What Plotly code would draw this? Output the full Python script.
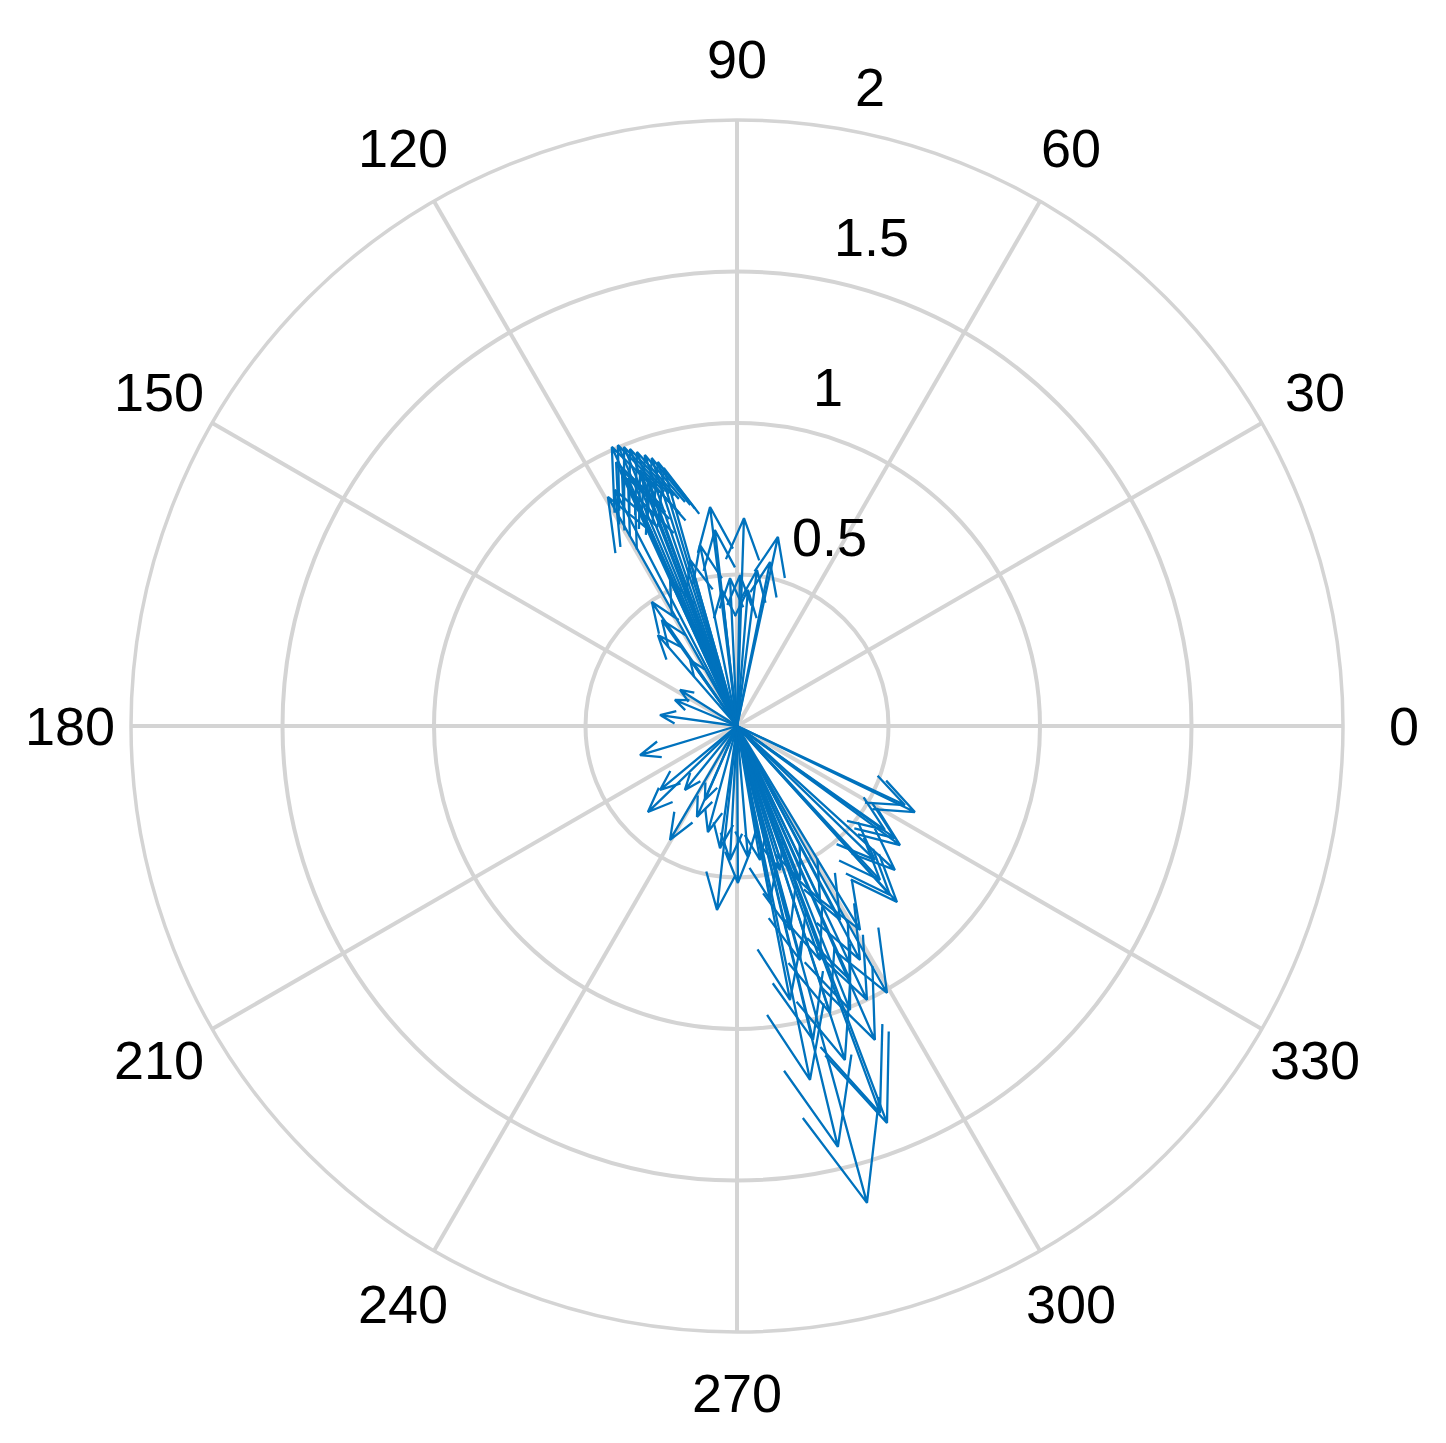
import numpy as np
import plotly.graph_objects as go

# Vector components (u = x, v = y) of each compass arrow, in data units
u = [-0.413, -0.393, -0.373, -0.353, -0.330, -0.304, -0.281, -0.261, -0.241, -0.399,
     -0.380, -0.360, -0.426, -0.403, -0.320, -0.294, -0.337,
     -0.089, 0.023, 0.135, -0.023, 0.010, 0.066, 0.109, -0.050, 0.036, -0.122, -0.155, -0.073,
     -0.281, -0.261, -0.248, -0.188, -0.205, -0.254, -0.155, -0.221,
     -0.320, -0.294, -0.221, -0.132, -0.096, -0.056, -0.066, 0.003, 0.036, -0.106, -0.172, -0.023, -0.254,
     0.587, 0.554, 0.538, 0.521, 0.488, 0.528, 0.505, 0.472, 0.455, 0.521,
     0.495, 0.429, 0.307, 0.251, 0.495, 0.333, 0.429, 0.472, 0.373, 0.208, 0.175, 0.274, 0.406,
     0.175, 0.241, 0.356, 0.142, 0.208, 0.274, 0.340, 0.406, 0.109, 0.076, 0.373, 0.455]
v = [0.921, 0.927, 0.921, 0.914, 0.904, 0.894, 0.884, 0.871, 0.851, 0.871,
     0.845, 0.818, 0.756, 0.779, 0.845, 0.818, 0.762,
     0.723, 0.686, 0.624, 0.488, 0.498, 0.515, 0.541, 0.449, 0.449, 0.597, 0.548, 0.647,
     0.409, 0.300, 0.350, 0.119, 0.086, 0.036, 0.218, 0.482,
     -0.096, -0.284, -0.376, -0.300, -0.350, -0.403, -0.607, -0.518, -0.432, -0.244, -0.211, -0.442, -0.211,
     -0.284, -0.261, -0.393, -0.370, -0.343, -0.581, -0.558, -0.508, -0.442, -0.475,
     -0.881, -0.904, -0.947, -1.036, -1.310, -1.389, -1.574, -1.277, -0.838, -0.772, -0.673, -0.772, -0.772,
     -0.904, -1.168, -1.102, -0.475, -0.508, -0.574, -0.640, -0.673, -0.574, -0.442, -0.937, -1.036]

radial_ticks = [0.5, 1, 1.5, 2]
radial_labels = ["0.5", "1", "1.5", "2"]
angular_ticks = list(range(0, 360, 30))
angular_labels = [str(a) for a in angular_ticks]
r_max = 2

# Build compass-style arrows (shaft + head) like MATLAB's compass()
shape = np.array([0, 1, 0.8 + 0.08j, 1, 0.8 - 0.08j])
rs, ths = [], []
for uu, vv in zip(u, v):
    z = complex(uu, vv)
    for p in shape * z:
        rs.append(abs(p))
        ths.append(np.degrees(np.angle(p)) % 360)
    rs.append(None)
    ths.append(None)

fig = go.Figure()
fig.add_trace(go.Scatterpolar(
    r=rs, theta=ths, mode="lines",
    line=dict(color="#0072BD", width=2.3),
    hoverinfo="skip", showlegend=False,
))

grid = "#d4d4d4"
FONT = "Liberation Sans, Arial, sans-serif"
FS = 54
W, H = 1446, 1443
cx, cy, R = 729, 718, 606   # page has an 8px body margin
dom_x = [(cx - R) / W, (cx + R) / W]
dom_y = [1 - (cy + R) / H, 1 - (cy - R) / H]


def to_paper(r, theta_deg):
    """Map polar data coordinates to paper coordinates of the polar domain."""
    px0 = (dom_x[0] + dom_x[1]) / 2
    py0 = (dom_y[0] + dom_y[1]) / 2
    rx = (dom_x[1] - dom_x[0]) / 2
    ry = (dom_y[1] - dom_y[0]) / 2
    t = np.radians(theta_deg)
    return px0 + rx * (r / r_max) * np.cos(t), py0 + ry * (r / r_max) * np.sin(t)


annotations = []
# Angular labels: centred on a circle just outside the plot (MATLAB style)
for a, lab in zip(angular_ticks, angular_labels):
    x, y = to_paper(r_max * 1.101, a)
    annotations.append(dict(x=x, y=y, xref="paper", yref="paper", text=lab,
                            showarrow=False, xanchor="center", yanchor="middle",
                            font=dict(family=FONT, size=FS, color="black")))
# Radial labels near the 82-degree direction
for t, lab in zip(radial_ticks, radial_labels):
    x, y = to_paper(t, 82)
    annotations.append(dict(x=x, y=y, xref="paper", yref="paper", text=lab,
                            showarrow=False, xanchor="left", yanchor="middle",
                            xshift=32, yshift=39,
                            font=dict(family=FONT, size=FS, color="black")))

fig.update_layout(
    width=W, height=H,
    margin=dict(l=0, r=0, t=0, b=0),
    paper_bgcolor="white",
    font=dict(family=FONT, size=FS, color="black"),
    annotations=annotations,
    polar=dict(
        domain=dict(x=dom_x, y=dom_y),
        bgcolor="white",
        radialaxis=dict(
            range=[0, r_max], tickvals=radial_ticks, showticklabels=False,
            angle=80, showline=False, gridcolor=grid, gridwidth=3.5, ticks="",
        ),
        angularaxis=dict(
            tickvals=angular_ticks, showticklabels=False,
            direction="counterclockwise", rotation=0,
            showline=True, linecolor=grid, linewidth=3.5,
            gridcolor=grid, gridwidth=3.5, ticks="",
        ),
    ),
)
fig.write_html("out.html")
